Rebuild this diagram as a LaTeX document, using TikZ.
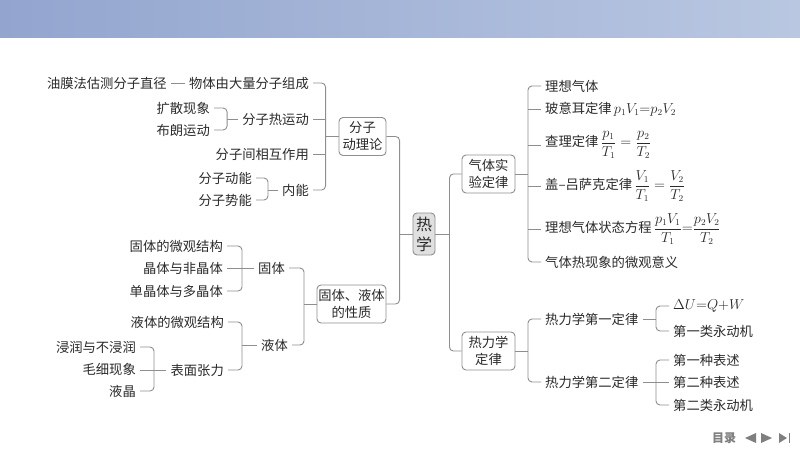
\documentclass[tikz,border=0pt]{standalone}
\usepackage{amsmath}
\usepackage{fontspec}
\setmainfont{Noto Sans CJK SC}
\usetikzlibrary{positioning}
\definecolor{wire}{HTML}{8E8E8E}
\definecolor{ink}{HTML}{2A2A2A}
\definecolor{navgray}{HTML}{7F7F7F}
\definecolor{headl}{RGB}{147,165,207}
\definecolor{headr}{RGB}{185,199,225}
\newcommand\Txt{\fontsize{13.3}{17}\selectfont}

\begin{document}
\begin{tikzpicture}[x=1pt, y=-1pt,
    link/.style={draw=wire, line width=0.9pt, rounded corners=4pt},
    leafl/.style={anchor=east, text=ink, font=\Txt, inner xsep=4pt, inner ysep=1pt},
    leafr/.style={anchor=west, text=ink, font=\Txt, inner xsep=4pt, inner ysep=1pt},
    topic/.style={draw=wire, line width=0.9pt, fill=white, rounded corners=4pt, text=ink, font=\Txt,
      align=center, inner sep=0pt, minimum height=38pt},
    core/.style={topic, fill=black!12, minimum width=22pt, minimum height=42pt, font=\fontsize{16}{20}\selectfont},
    nav/.style={fill=navgray}]
      \useasboundingbox (0,0) rectangle (800,450);
      \shade[left color=headl, right color=headr] (0,0) rectangle (800,37);

      % centre and the four topics
      \node[core] (thermo) at (424,234) {热\\学};
      \node[topic, minimum width=47pt] (molecule) at (362.5,136.5) {分子\\动理论};
      \node[topic, minimum width=69pt] (matter) at (351.5,304) {固体、液体\\的性质};
      \node[topic, minimum width=53pt] (gas) at (488.5,174) {气体实\\验定律};
      \node[topic, minimum width=53pt] (laws) at (488.5,351) {热力学\\定律};
      \coordinate[left=13pt of thermo.west] (thermol);
      \coordinate[right=14pt of thermo.east] (thermor);
      \draw[link] (molecule.east) -| (thermol) |- (matter.east);
      \draw[link] (thermol) -- (thermo.west);
      \draw[link] (gas.west) -| (thermor) |- (laws.west);
      \draw[link] (thermor) -- (thermo.east);

      % molecules
      \node[leafl] (body) at (313,83) {物体由大量分子组成};
      \node[leafl, left=14pt of body] (film) {油膜法估测分子直径};
      \node[leafl] (motion) at (313,119) {分子热运动};
      \node[leafl] (spread) at (214,108) {扩散现象};
      \node[leafl] (brown) at (214,130) {布朗运动};
      \node[leafl] (force) at (313,154) {分子间相互作用};
      \node[leafl] (inner) at (313,190) {内能};
      \node[leafl] (kinetic) at (256,178) {分子动能};
      \node[leafl] (potential) at (256,200) {分子势能};
      \coordinate[left=13pt of molecule.west] (moleculej);
      \coordinate[left=11pt of motion.west] (motionj);
      \coordinate[left=10pt of inner.west] (innerj);
      \draw[link] (film) -- (body);
      \draw[link] (body.east) -| (moleculej) |- (inner.east);
      \draw[link] (moleculej) -- (molecule.west);
      \foreach \leaf in {motion,force} \draw[link] (\leaf.east) -- (\leaf.east -| moleculej);
      \draw[link] (spread.east) -| (motionj) |- (brown.east);
      \draw[link] (motionj) -- (motion.west);
      \draw[link] (kinetic.east) -| (innerj) |- (potential.east);
      \draw[link] (innerj) -- (inner.west);

      % solids and liquids
      \node[leafl] (solid) at (289,268) {固体};
      \node[leafl] (liquid) at (292,345) {液体};
      \node[leafl] (solidmicro) at (227,246) {固体的微观结构};
      \node[leafl] (crystal) at (227,268) {晶体与非晶体};
      \node[leafl] (poly) at (227,291) {单晶体与多晶体};
      \node[leafl] (liquidmicro) at (228,322) {液体的微观结构};
      \node[leafl] (tension) at (228,370) {表面张力};
      \node[leafl] (wetting) at (140,347) {浸润与不浸润};
      \node[leafl] (capillary) at (140,369) {毛细现象};
      \node[leafl] (lc) at (140,391) {液晶};
      \coordinate (matterj) at (304,304);
      \coordinate (solidj) at (242,268);
      \coordinate (liquidj) at (242,345);
      \coordinate (tensionj) at (154,370);
      \draw[link] (solid.east) -| (matterj) |- (liquid.east);
      \draw[link] (matterj) -- (matter.west);
      \draw[link] (solidmicro.east) -| (solidj) |- (poly.east);
      \draw[link] (crystal.east) -- (solid.west);
      \draw[link] (liquidmicro.east) -| (liquidj) |- (tension.east);
      \draw[link] (liquidj) -- (liquid.west);
      \draw[link] (wetting.east) -| (tensionj) |- (lc.east);
      \draw[link] (capillary.east |- tensionj) -- (tension.west);

      % gases
      \node[leafr] (ideal) at (541,86) {理想气体};
      \node[leafr] (boyle) at (541,109) {玻意耳定律\,$p_1V_1{=}p_2V_2$};
      \node[leafr] (charles) at (541,145) {查理定律\,$\dfrac{p_1}{T_1}=\dfrac{p_2}{T_2}$};
      \node[leafr] (gaylussac) at (541,186) {盖–吕萨克定律\,$\dfrac{V_1}{T_1}=\dfrac{V_2}{T_2}$};
      \node[leafr] (state) at (541,229) {理想气体状态方程\,$\dfrac{p_1V_1}{T_1}{=}\dfrac{p_2V_2}{T_2}$};
      \node[leafr] (meaning) at (541,262) {气体热现象的微观意义};
      \coordinate (gasj) at (528,174);
      \draw[link] (ideal.west) -| (gasj) |- (meaning.west);
      \draw[link] (gas.east) -- (gasj);
      \foreach \leaf in {boyle,charles,gaylussac,state} \draw[link] (\leaf.west) -- (\leaf.west -| gasj);

      % laws
      \node[leafr] (first) at (541,319) {热力学第一定律};
      \node[leafr] (second) at (541,382) {热力学第二定律};
      \node[leafr] (energy) at (669,306) {$\Delta U{=}Q{+}W$};
      \node[leafr] (perpone) at (669,331) {第一类永动机};
      \node[leafr] (stateone) at (669,360) {第一种表述};
      \node[leafr] (statetwo) at (669,382) {第二种表述};
      \node[leafr] (perptwo) at (669,405) {第二类永动机};
      \coordinate (lawsj) at (528,351);
      \coordinate (firstj) at (656,319);
      \coordinate (secondj) at (656,382);
      \draw[link] (first.west) -| (lawsj) |- (second.west);
      \draw[link] (laws.east) -- (lawsj);
      \draw[link] (energy.west) -| (firstj) |- (perpone.west);
      \draw[link] (first.east) -- (firstj);
      \draw[link] (stateone.west) -| (secondj) |- (perptwo.west);
      \draw[link] (second.east) -- (statetwo.west);

      % footer buttons
      \node[text=navgray, font=\fontsize{12}{14}\selectfont\bfseries, inner sep=0pt] (toc) at (724,438) {目录};
      \fill[nav] (745,438) -- (756,433) -- (756,443) -- cycle;
      \fill[nav] (772,438) -- (761,433) -- (761,443) -- cycle;
      \fill[nav] (787,438) -- (779,433) -- (779,443) -- cycle;
      \fill[nav] (788.5,433) rectangle (790,443);
    \end{tikzpicture}
\end{document}
